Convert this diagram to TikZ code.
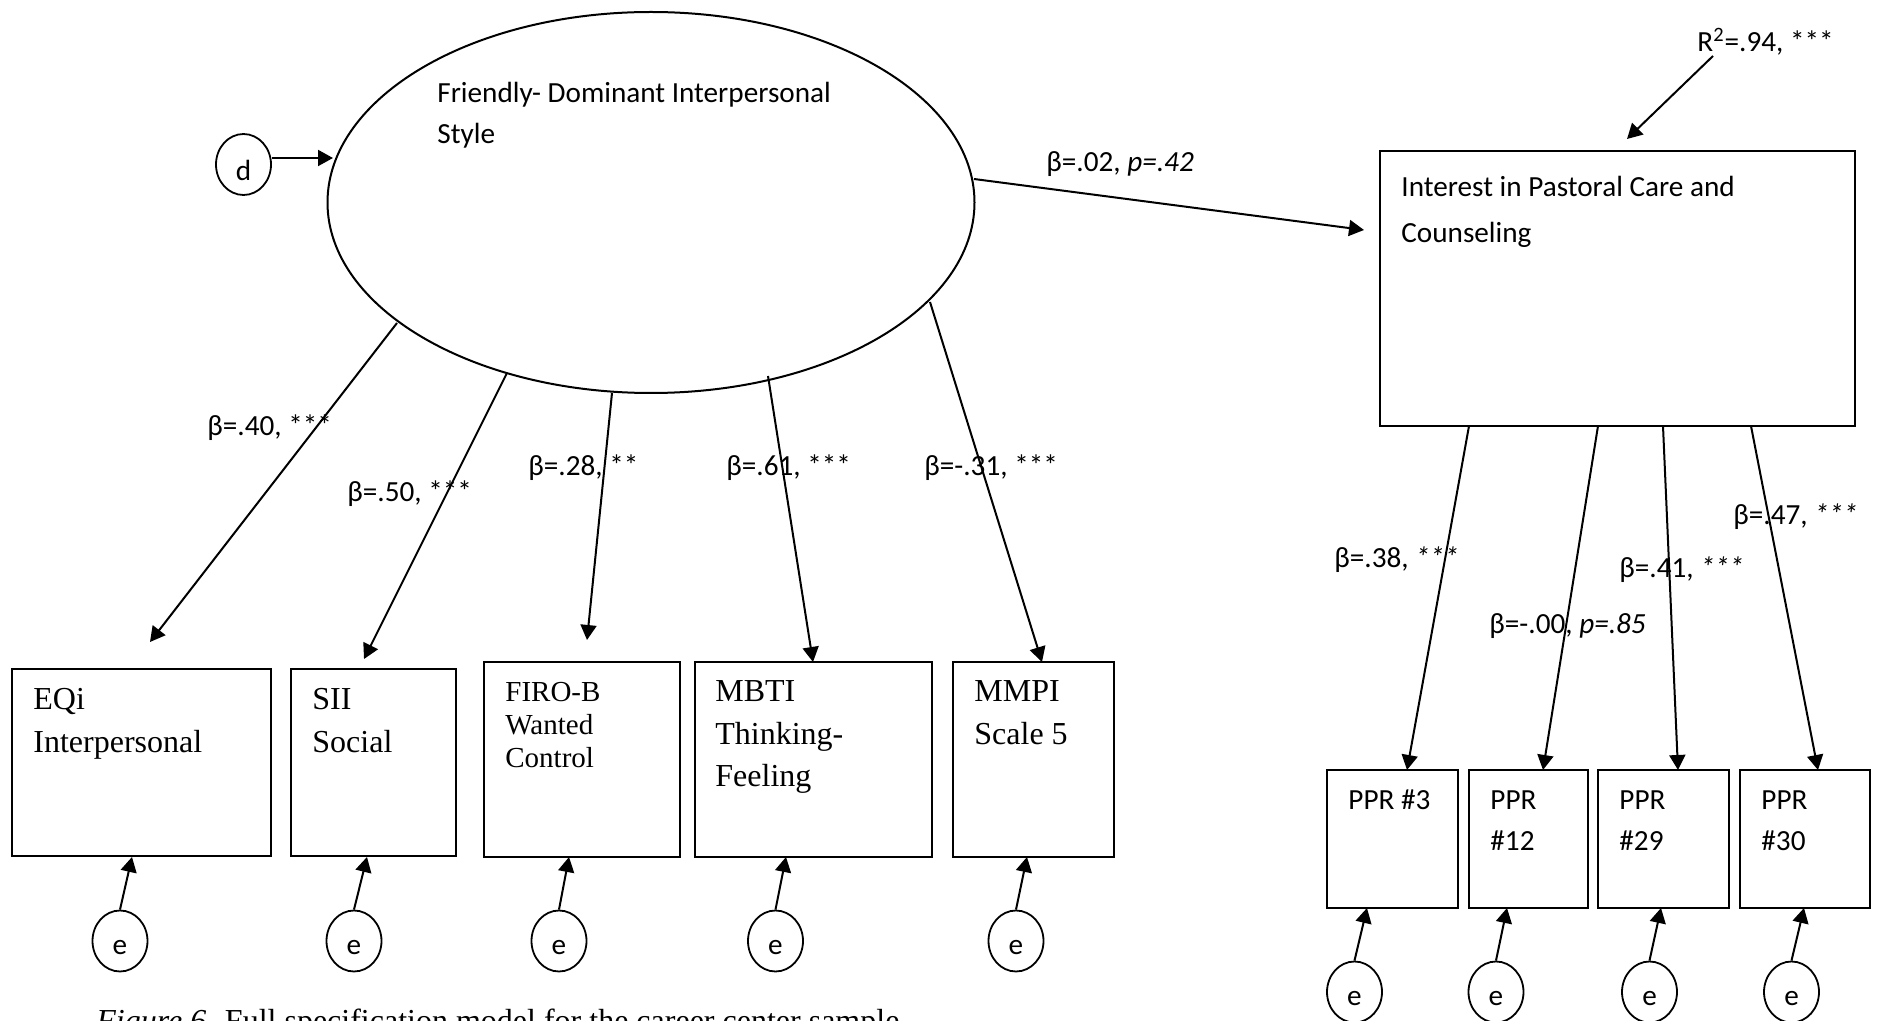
\documentclass[tikz,border=0pt]{standalone}
\usepackage{fontspec}
\setmainfont{Liberation Serif}
\newfontfamily\calfont{Carlito}
\usetikzlibrary{shapes.geometric,arrows.meta}
\newcommand\mycal{\calfont\fontsize{14.6}{17}\selectfont}
\newcommand\myser{\fontsize{16}{19}\selectfont}
\newcommand\mysersm{\fontsize{14.5}{17}\selectfont}
\tikzset{
  x=0.5pt, y=-0.5pt,
  box/.style={draw, line width=1pt, rectangle, inner sep=0pt},
  errc/.style={draw, ellipse, line width=0.9pt, inner sep=0pt,
    minimum width=27.5pt, minimum height=30.5pt, font=\mycal,
    text height=13.8pt, text depth=0pt},
  arr/.style={line width=1pt, -{Triangle[length=7.5pt,width=8pt]}},
  lbl/.style={inner sep=0pt, anchor=base west, font=\mycal},
  ser/.style={inner sep=0pt, anchor=base west, font=\myser},
  sersm/.style={inner sep=0pt, anchor=base west, font=\mysersm},
}
\begin{document}
\begin{tikzpicture}
\useasboundingbox (0,0) rectangle (1881,1021);

% latent variable
\node[draw, ellipse, line width=1pt, minimum width=323.5pt, minimum height=190.5pt, inner sep=0pt] (F) at (651,202.5) {};
\node[lbl] (Ft1) at (437,103) {Friendly- Dominant Interpersonal};
\node[lbl] (Ft2) at (437,144) {Style};

\node[errc, text height=15.7pt] (d) at (243.5,164.5) {d};
\draw[arr] ([yshift=3.25pt]d.east) -- ([yshift=3.25pt]d.east -| 333,0);

% indicator boxes (left)
\node[box, minimum width=129.5pt, minimum height=93.5pt] (EQ) at (141.5,762.5) {};
\node[box, minimum width=82.5pt, minimum height=93.5pt] (SII) at (373.5,762.5) {};
\node[box, minimum width=98pt, minimum height=97.5pt] (FIRO) at (582,759.5) {};
\node[box, minimum width=118.5pt, minimum height=97.5pt] (MBTI) at (813.5,759.5) {};
\node[box, minimum width=80.5pt, minimum height=97.5pt] (MMPI) at (1033.5,759.5) {};

\node[ser] (EQa) at (33,709) {EQi};
\node[ser] (EQb) at (33,752) {Interpersonal};
\node[ser] (SIIa) at (312,709) {SII};
\node[ser] (SIIb) at (312,752) {Social};
\node[sersm] (FIa) at (505,701) {FIRO-B};
\node[sersm] (FIb) at (505,734) {Wanted};
\node[sersm] (FIc) at (505,767) {Control};
\node[ser] (MBa) at (715,702) {MBTI};
\node[ser] (MBb) at (715,744) {Thinking-};
\node[ser] (MBc) at (715,786) {Feeling};
\node[ser] (MMa) at (974,702) {MMPI};
\node[ser] (MMb) at (974,744) {Scale 5};

% loadings (left)
\coordinate (s1) at (397,323);  \coordinate (t1) at (150,642);
\coordinate (s2) at (507,373);  \coordinate (t2) at (364,659);
\coordinate (s3) at (612,393);  \coordinate (t3) at (587,640);
\coordinate (s4) at (768,376);  \coordinate (t4) at (813,662);
\coordinate (s5) at (930,302);  \coordinate (t5) at (1042,662);
\draw[arr] (s1) -- (t1);
\draw[arr] (s2) -- (t2);
\draw[arr] (s3) -- (t3);
\draw[arr] (s4) -- (t4);
\draw[arr] (s5) -- (t5);
\node[lbl] (L1) at (207,436) {β=.40, ***};
\node[lbl] (L2) at (347,502) {β=.50, ***};
\node[lbl] (L3) at (528,476) {β=.28, **};
\node[lbl] (L4) at (726,476) {β=.61, ***};
\node[lbl] (L5) at (924,476) {β=-.31, ***};

% error terms (left)
\node[errc] (e1) at (120,941) {e};
\node[errc] (e2) at (354,941) {e};
\node[errc] (e3) at (559,941) {e};
\node[errc] (e4) at (775.5,941) {e};
\node[errc] (e5) at (1016,941) {e};
\coordinate (u1) at (132,857);
\coordinate (u2) at (367,857);
\coordinate (u3) at (569,857);
\coordinate (u4) at (786,857);
\coordinate (u5) at (1027,857);
\draw[arr] (e1.north) -- (u1);
\draw[arr] (e2.north) -- (u2);
\draw[arr] (e3.north) -- (u3);
\draw[arr] (e4.north) -- (u4);
\draw[arr] (e5.north) -- (u5);

% structural path
\node[box, minimum width=237.5pt, minimum height=137.5pt] (INT) at (1617.5,288.5) {};
\node[lbl] (INa) at (1401,197) {Interest in Pastoral Care and};
\node[lbl] (INb) at (1401,243) {Counseling};
\coordinate (sF) at (974,179);
\coordinate (tI) at (1364,230);
\draw[arr] (sF) -- (tI);
\node[lbl] (Lpath) at (1046,172) {β=.02, \textit{p=.42}};

\node[lbl] (R2) at (1697,52) {R\textsuperscript{2}=.94, ***};
\coordinate (r2s) at (1713,56);
\coordinate (r2t) at (1627,139);
\draw[arr] (r2s) -- (r2t);

% PPR boxes
\node[box, minimum width=65.5pt, minimum height=69pt] (P3) at (1392.5,839) {};
\node[box, minimum width=59.5pt, minimum height=69pt] (P12) at (1528.5,839) {};
\node[box, minimum width=65.5pt, minimum height=69pt] (P29) at (1663.5,839) {};
\node[box, minimum width=65pt, minimum height=69pt] (P30) at (1805,839) {};
\node[lbl] (P3a) at (1348,809) {PPR \#3};
\node[lbl] (P12a) at (1490,809) {PPR};
\node[lbl] (P12b) at (1490,850) {\#12};
\node[lbl] (P29a) at (1619,809) {PPR};
\node[lbl] (P29b) at (1619,850) {\#29};
\node[lbl] (P30a) at (1761,809) {PPR};
\node[lbl] (P30b) at (1761,850) {\#30};

\coordinate (a1) at (1469,426); \coordinate (b1) at (1407,770);
\coordinate (a2) at (1598,426); \coordinate (b2) at (1543,770);
\coordinate (a3) at (1663,426); \coordinate (b3) at (1678,770);
\coordinate (a4) at (1751,426); \coordinate (b4) at (1818,770);
\draw[arr] (a1) -- (b1);
\draw[arr] (a2) -- (b2);
\draw[arr] (a3) -- (b3);
\draw[arr] (a4) -- (b4);
\node[lbl] (M1) at (1334,568) {β=.38, \textit{***}};
\node[lbl] (M2) at (1489,633) {β=-.00, \textit{p=.85}};
\node[lbl] (M3) at (1619,578) {β=.41, \textit{***}};
\node[lbl] (M4) at (1733,525) {β=.47, \textit{***}};

% error terms (right)
\node[errc] (f1) at (1354.5,992) {e};
\node[errc] (f2) at (1496,992) {e};
\node[errc] (f3) at (1649.5,992) {e};
\node[errc] (f4) at (1791.5,992) {e};
\coordinate (v1) at (1367,908);
\coordinate (v2) at (1507,908);
\coordinate (v3) at (1661,908);
\coordinate (v4) at (1804,908);
\draw[arr] (f1.north) -- (v1);
\draw[arr] (f2.north) -- (v2);
\draw[arr] (f3.north) -- (v3);
\draw[arr] (f4.north) -- (v4);

% caption
\node[ser] (cap) at (96,1031) {\textit{Figure 6.} Full specification model for the career center sample.};
\end{tikzpicture}
\end{document}
